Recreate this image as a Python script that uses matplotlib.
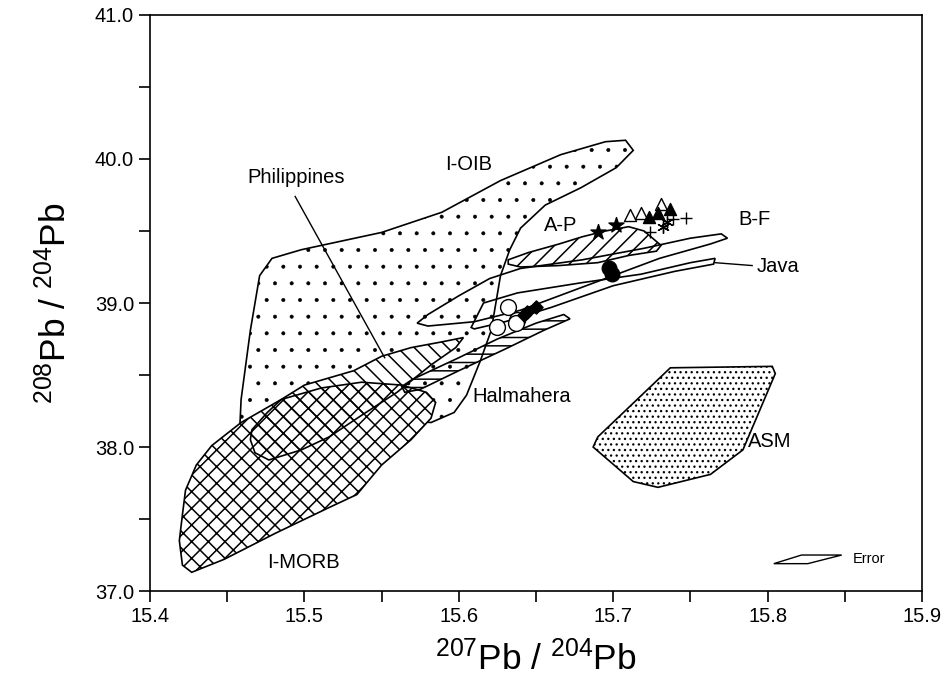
import matplotlib
matplotlib.use("Agg")
import matplotlib.pyplot as plt
from matplotlib.patches import Polygon

plt.rcParams['font.family'] = ['Liberation Sans', 'DejaVu Sans']
plt.rcParams['mathtext.fontset'] = 'custom'
plt.rcParams['mathtext.rm'] = 'Liberation Sans'
plt.rcParams['mathtext.it'] = 'Liberation Sans'
plt.rcParams['hatch.linewidth'] = 1.0

# ---- field outlines (207Pb/204Pb, 208Pb/204Pb) ----
ioib_x = [15.479, 15.498, 15.550, 15.589, 15.627, 15.666, 15.695, 15.708, 15.713, 15.702,
          15.679, 15.656, 15.640, 15.633, 15.627, 15.621, 15.614, 15.605, 15.597, 15.582,
          15.563, 15.498, 15.458, 15.459, 15.465, 15.471]
ioib_y = [39.31, 39.37, 39.49, 39.63, 39.85, 40.03, 40.12, 40.13, 40.06, 39.94,
          39.80, 39.68, 39.52, 39.37, 39.19, 38.81, 38.60, 38.36, 38.24, 38.17,
          38.19, 38.10, 38.10, 38.33, 38.81, 39.19]

phil_x = [15.466, 15.476, 15.485, 15.500, 15.516, 15.532, 15.550, 15.569, 15.589, 15.603,
          15.598, 15.582, 15.560, 15.537, 15.516, 15.498, 15.477, 15.468, 15.465]
phil_y = [38.12, 38.24, 38.33, 38.43, 38.48, 38.53, 38.63, 38.69, 38.73, 38.76,
          38.69, 38.57, 38.38, 38.22, 38.07, 37.98, 37.91, 37.96, 38.05]

morb_x = [15.423, 15.430, 15.440, 15.459, 15.485, 15.511, 15.537, 15.563, 15.579, 15.585,
          15.582, 15.569, 15.550, 15.534, 15.516, 15.481, 15.448, 15.427, 15.421, 15.419, 15.421]
morb_y = [37.70, 37.875, 38.01, 38.17, 38.33, 38.41, 38.45, 38.43, 38.38, 38.31,
          38.20, 38.05, 37.875, 37.67, 37.58, 37.40, 37.22, 37.13, 37.18, 37.35, 37.53]

halm_x = [15.563, 15.570, 15.600, 15.625, 15.650, 15.668, 15.672, 15.655,
          15.630, 15.600, 15.575, 15.565]
halm_y = [38.42, 38.47, 38.62, 38.75, 38.86, 38.92, 38.89, 38.81,
          38.68, 38.53, 38.40, 38.38]

ap_x = [15.632, 15.645, 15.665, 15.680, 15.695, 15.710, 15.720, 15.731, 15.728, 15.710,
        15.690, 15.665, 15.640, 15.632]
ap_y = [39.30, 39.35, 39.41, 39.46, 39.50, 39.53, 39.50, 39.40, 39.36, 39.33,
        39.28, 39.26, 39.25, 39.27]

bf_x = [15.573, 15.580, 15.600, 15.620, 15.640, 15.680, 15.720, 15.750, 15.770, 15.774,
        15.763, 15.730, 15.700, 15.670, 15.640, 15.610, 15.580]
bf_y = [38.86, 38.92, 39.05, 39.17, 39.24, 39.30, 39.38, 39.45, 39.48, 39.45,
        39.41, 39.31, 39.19, 39.07, 38.95, 38.87, 38.84]

java_x = [15.608, 15.616, 15.638, 15.679, 15.718, 15.750, 15.766, 15.765, 15.740, 15.700,
          15.660, 15.630, 15.610]
java_y = [38.83, 39.00, 39.07, 39.14, 39.20, 39.28, 39.31, 39.27, 39.22, 39.12,
          38.97, 38.87, 38.82]

asm_x = [15.737, 15.803, 15.805, 15.784, 15.763, 15.729, 15.713, 15.687, 15.690]
asm_y = [38.55, 38.56, 38.51, 37.98, 37.81, 37.72, 37.76, 38.00, 38.07]

err_x = [15.804, 15.822, 15.848, 15.826]
err_y = [37.19, 37.25, 37.25, 37.19]

# ---- samples ----
open_tri_x = [15.711, 15.718, 15.731]
open_tri_y = [39.61, 39.625, 39.69]
fill_tri_x = [15.723, 15.729, 15.737]
fill_tri_y = [39.60, 39.625, 39.65]
plus_x = [15.724, 15.739, 15.747]
plus_y = [39.49, 39.58, 39.59]
ast_x = [15.732, 15.735]
ast_y = [39.53, 39.56]
star_x = [15.690, 15.702]
star_y = [39.49, 39.54]
fcirc_x = [15.697, 15.699]
fcirc_y = [39.24, 39.20]
ocirc_x = [15.632, 15.625, 15.638, 15.637]
ocirc_y = [38.97, 38.83, 38.88, 38.86]
diam_x = [15.642, 15.644, 15.650]
diam_y = [38.92, 38.94, 38.97]

xticks = [15.4, 15.5, 15.6, 15.7, 15.8, 15.9]
yticks = [37.0, 38.0, 39.0, 40.0, 41.0]

fig = plt.figure(figsize=(9.47, 6.87), dpi=100)
ax = fig.add_axes([0.1584, 0.1397, 0.8152, 0.8385])
ax.set_xlim(15.4, 15.9)
ax.set_ylim(37.0, 41.0)

def poly(xs, ys, hlw=1.0, **kw):
    plt.rcParams['hatch.linewidth'] = hlw
    p = Polygon(list(zip(xs, ys)), closed=True, **kw)
    if hasattr(p, 'set_hatch_linewidth'):
        p.set_hatch_linewidth(hlw)
    ax.add_patch(p)
    return p

lw = 1.2
poly(ioib_x, ioib_y, hlw=0.4, facecolor='none', edgecolor='black', hatch='.', lw=lw, zorder=1)
poly(phil_x, phil_y, facecolor='white', edgecolor='none', zorder=2)
poly(morb_x, morb_y, hlw=1.1, facecolor='white', edgecolor='black', hatch='xx', lw=lw, zorder=3)
poly(phil_x, phil_y, hlw=1.1, facecolor='none', edgecolor='black', hatch='\\\\', lw=lw, zorder=4)
poly(halm_x, halm_y, hlw=1.1, facecolor='none', edgecolor='black', hatch='--', lw=lw, zorder=5)
poly(ap_x, ap_y, hlw=1.1, facecolor='white', edgecolor='black', hatch='//', lw=lw, zorder=5)
poly(bf_x, bf_y, facecolor='none', edgecolor='black', lw=lw, zorder=6)
poly(java_x, java_y, facecolor='none', edgecolor='black', lw=lw, zorder=6)
poly(asm_x, asm_y, hlw=0.9, facecolor='none', edgecolor='black', hatch='...', lw=lw, zorder=5)
poly(err_x, err_y, facecolor='none', edgecolor='black', lw=1.0, zorder=5)

# pointer lines
ax.plot([15.494, 15.552], [39.74, 38.62], color='black', lw=1.0, zorder=6)
ax.plot([15.766, 15.790], [39.28, 39.26], color='black', lw=1.0, zorder=6)

# samples
ax.scatter(open_tri_x, open_tri_y, marker='^', s=75, facecolor='white', edgecolor='black', lw=1.0, zorder=10)
ax.scatter(fill_tri_x, fill_tri_y, marker='^', s=75, facecolor='black', edgecolor='black', zorder=10)
ax.scatter(plus_x, plus_y, marker='+', s=70, color='black', lw=1.0, zorder=10)
ax.scatter(ast_x, ast_y, marker=(6, 2, 0), s=70, color='black', lw=1.0, zorder=10)
ax.scatter(star_x, star_y, marker='*', s=130, color='black', zorder=10)
ax.scatter(fcirc_x, fcirc_y, marker='o', s=110, color='black', zorder=10)
ax.scatter(ocirc_x, ocirc_y, marker='o', s=130, facecolor='white', edgecolor='black', lw=1.0, zorder=10)
ax.scatter(diam_x, diam_y, marker='D', s=45, color='black', zorder=10)

# labels
fs = 14.5
ax.text(15.591, 39.965, 'I-OIB', fontsize=fs, va='center', ha='left')
ax.text(15.463, 39.87, 'Philippines', fontsize=fs, va='center', ha='left')
ax.text(15.655, 39.54, 'A-P', fontsize=fs, va='center', ha='left')
ax.text(15.781, 39.58, 'B-F', fontsize=fs, va='center', ha='left')
ax.text(15.793, 39.25, 'Java', fontsize=fs, va='center', ha='left')
ax.text(15.609, 38.35, 'Halmahera', fontsize=fs, va='center', ha='left')
ax.text(15.787, 38.04, 'ASM', fontsize=fs, va='center', ha='left')
ax.text(15.476, 37.20, 'I-MORB', fontsize=fs, va='center', ha='left')
ax.text(15.855, 37.22, 'Error', fontsize=10.5, va='center', ha='left')

ax.set_xticks(xticks)
ax.set_xticklabels([f'{v:.1f}' for v in xticks])
ax.set_yticks(yticks)
ax.set_yticklabels([f'{v:.1f}' for v in yticks])
ax.set_xticks([15.45, 15.55, 15.65, 15.75, 15.85], minor=True)
ax.set_yticks([37.5, 38.5, 39.5, 40.5], minor=True)
ax.tick_params(which='both', direction='out', length=8, width=1.2, labelsize=14.5,
               top=False, right=False)
for s in ax.spines.values():
    s.set_linewidth(1.2)

ax.set_xlabel(r'$^{207}$Pb / $^{204}$Pb', fontsize=25.5, labelpad=10)
ax.set_ylabel(r'$^{208}$Pb / $^{204}$Pb', fontsize=25.5, labelpad=16)

fig.savefig('out.png', dpi=100)
